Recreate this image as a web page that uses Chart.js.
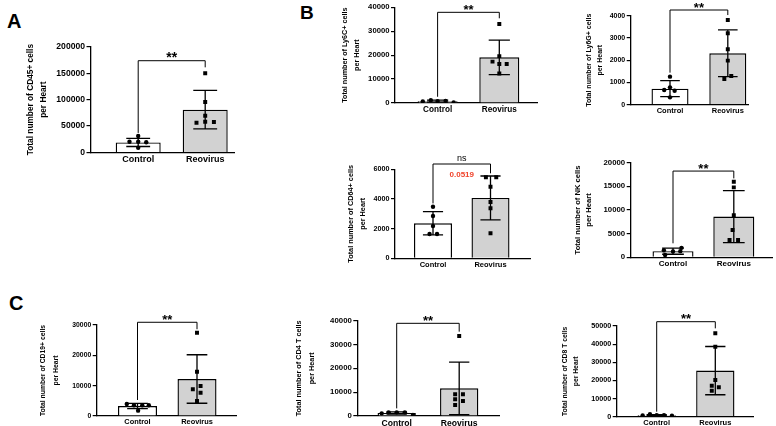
<!DOCTYPE html>
<html><head><meta charset="utf-8">
<script src="https://cdn.jsdelivr.net/npm/chart.js@4.4.1/dist/chart.umd.min.js"></script>
<style>
html,body{margin:0;padding:0;background:#fff;}
body{width:776px;height:426px;position:relative;overflow:hidden;font-family:'Liberation Sans',Arial,sans-serif;}
canvas{position:absolute;}
.lbl{position:absolute;font-weight:bold;line-height:1;color:#000;}
</style></head><body>
<div class="lbl" style="left:7px;top:11px;font-size:20px">A</div>
<div class="lbl" style="left:300px;top:2.5px;font-size:19px">B</div>
<div class="lbl" style="left:9px;top:292.5px;font-size:20px">C</div>
<script>
// ---------------- DATA ----------------
const categories = ['Control', 'Reovirus'];

// A: CD45+
const cd45Control = [31200, 20400, 20400, 19300, 9100];
const cd45Reovirus = [149700, 95500, 69600, 58200, 57600, 56300];
const cd45Mean = [19000, 81000];
const cd45SD = [7700, 36500];
const cd45Ticks = [0, 50000, 100000, 150000, 200000];

// B: Ly6C+
const ly6cControl = [700, 1200, 800, 900, 200];
const ly6cReovirus = [33000, 19600, 17300, 16300, 16300, 12300];
const ly6cMean = [760, 19100];
const ly6cSD = [400, 7200];
const ly6cTicks = [0, 10000, 20000, 30000, 40000];

// B: Ly6G+
const ly6gControl = [1260, 780, 660, 630, 330];
const ly6gReovirus = [3810, 3210, 2490, 1980, 1290, 1155];
const ly6gMean = [720, 2310];
const ly6gSD = [360, 1050];
const ly6gTicks = [0, 1000, 2000, 3000, 4000];

// B: CD64+
const cd64Control = [3480, 2850, 2180, 1640, 1640];
const cd64Reovirus = [5460, 5460, 4830, 3800, 3370, 1690];
const cd64Mean = [2360, 4070];
const cd64SD = [780, 1480];
const cd64Ticks = [0, 2000, 4000, 6000];

// B: NK
const nkControl = [1500, 1250, 1300, 2000, 500];
const nkReovirus = [15970, 14780, 8870, 5770, 3650, 3650];
const nkMean = [1300, 8600];
const nkSD = [650, 5500];
const nkTicks = [0, 5000, 10000, 15000, 20000];

// C: CD19+
const cd19Control = [3960, 3520, 3520, 3520, 1760];
const cd19Reovirus = [27460, 14600, 9890, 8800, 7690, 4950];
const cd19Mean = [3300, 12200];
const cd19SD = [850, 8000];
const cd19Ticks = [0, 10000, 20000, 30000];

// C: CD4 T
const cd4Control = [1120, 1540, 1540, 1540, 420];
const cd4Reovirus = [33580, 9110, 9110, 7000, 6300, 4620];
const cd4Mean = [1230, 11600];
const cd4SD = [480, 11000];
const cd4Ticks = [0, 10000, 20000, 30000, 40000];

// C: CD8 T
const cd8Control = [700, 1400, 800, 800, 600];
const cd8Reovirus = [45970, 38590, 20230, 17090, 16200, 14330];
const cd8Mean = [860, 25400];
const cd8SD = [300, 13300];
const cd8Ticks = [0, 10000, 20000, 30000, 40000, 50000];

// ---------------- POINT SPREAD (horizontal scatter within a group) ----------------
const jitter = {
  cd45: {c: [0, -0.13, 0, 0.12, 0], r: [0, 0, 0, 0, 0.13, -0.13]},
  ly6c: {c: [-0.24, -0.11, 0, 0.13, 0.26], r: [0, 0, -0.11, 0, 0.12, 0]},
  ly6g: {c: [0, 0, -0.1, 0.08, 0], r: [0, 0, 0, 0, 0.06, -0.06]},
  cd64: {c: [0, 0, 0, -0.06, 0.07], r: [-0.08, 0.1, 0, 0, 0, 0]},
  nk:   {c: [-0.15, 0, 0.12, 0.14, -0.13], r: [0, 0, 0, -0.02, -0.07, 0.07]},
  cd19: {c: [-0.18, -0.06, 0.08, 0.19, 0.01], r: [0, 0, 0.06, -0.07, 0.06, 0]},
  cd4:  {c: [-0.24, -0.13, 0, 0.13, 0.26], r: [0, -0.065, 0.06, -0.065, 0.06, -0.065]},
  cd8:  {c: [-0.24, -0.115, 0, 0.125, 0.26], r: [0, 0, 0, -0.06, 0.06, -0.06]}
};

// ---------------- LAYOUT (pixels in page) ----------------
const layouts = {
  cd45: {axisX: 90.5, axisRight: 234, top: 46.7, bottom: 152.5, c0: 138.2, c1: 205.2, barW: 45, titleX: 30.7, titleLH: 12.3, titleSize: 8.3, tickSize: 8.6, xSize: 9, sigSize: 14},
  ly6c: {axisX: 395, axisRight: 537, top: 7.3, bottom: 103, c0: 437.6, c1: 499.3, barW: 40, titleX: 345, titleLH: 12.3, titleSize: 7.2, tickSize: 7.7, xSize: 8.2, sigSize: 13},
  ly6g: {axisX: 630.7, axisRight: 748, top: 15.7, bottom: 104.7, c0: 670, c1: 727.8, barW: 37, titleX: 589.3, titleLH: 11.7, titleSize: 7.0, tickSize: 7.0, xSize: 7.5, sigSize: 13},
  cd64: {axisX: 395, axisRight: 530, top: 169.3, bottom: 258.3, c0: 433, c1: 490.5, barW: 38, titleX: 351, titleLH: 12.3, titleSize: 7.3, tickSize: 7.2, xSize: 7.5, sigSize: 9},
  nk:   {axisX: 630.7, axisRight: 772, top: 162.7, bottom: 257.3, c0: 673, c1: 733.8, barW: 41, titleX: 577.7, titleLH: 11.6, titleSize: 7.6, tickSize: 7.8, xSize: 8, sigSize: 13},
  cd19: {axisX: 96.7, axisRight: 236, top: 325, bottom: 416, c0: 137.5, c1: 197, barW: 39, titleX: 43.3, titleLH: 12.7, titleSize: 6.8, tickSize: 6.8, xSize: 7.4, sigSize: 13},
  cd4:  {axisX: 357.3, axisRight: 499, top: 320.7, bottom: 416, c0: 396.7, c1: 459.2, barW: 38.3, titleX: 299, titleLH: 12.7, titleSize: 7.3, tickSize: 7.8, xSize: 8.6, sigSize: 13},
  cd8:  {axisX: 616.7, axisRight: 753, top: 326, bottom: 416.7, c0: 656.7, c1: 715.3, barW: 38.3, titleX: 565, titleLH: 11.7, titleSize: 6.8, tickSize: 7.2, xSize: 7.5, sigSize: 13}
};

const FONT = '"Liberation Sans", Arial, sans-serif';
Chart.defaults.font.family = FONT;
Chart.defaults.color = '#000';

const annotPlugin = {
  id: 'annot',
  afterDatasetsDraw(chart, args, opts) {
    const p = opts.panel;
    if (!p) return;
    const xs = chart.scales.x, ys = chart.scales.y, ctx = chart.ctx;
    ctx.save();
    ctx.strokeStyle = '#000';
    ctx.lineWidth = 1.3;
    const capHalf = p.barFrac * 0.53 / 2;
    p.mean.forEach((m, i) => {
      const s = p.sd[i];
      const px = xs.getPixelForValue(i);
      const pl = xs.getPixelForValue(i - capHalf), pr = xs.getPixelForValue(i + capHalf);
      const yt = ys.getPixelForValue(m + s), yb = ys.getPixelForValue(Math.max(m - s, 0));
      ctx.beginPath();
      ctx.moveTo(px, yt); ctx.lineTo(px, yb);
      ctx.moveTo(pl, yt); ctx.lineTo(pr, yt);
      ctx.moveTo(pl, yb); ctx.lineTo(pr, yb);
      ctx.stroke();
    });
    const b = p.bracket;
    const x0 = xs.getPixelForValue(0), x1 = xs.getPixelForValue(1), yl = ys.getPixelForValue(b.level);
    ctx.lineWidth = 1;
    ctx.beginPath();
    ctx.moveTo(x0, ys.getPixelForValue(b.left));
    ctx.lineTo(x0, yl); ctx.lineTo(x1, yl);
    ctx.lineTo(x1, ys.getPixelForValue(b.right));
    ctx.stroke();
    ctx.fillStyle = '#000';
    ctx.textAlign = 'center';
    const xm = xs.getPixelForValue(0.5);
    if (p.sig === 'ns') {
      ctx.font = 'normal ' + p.L.sigSize + 'px ' + FONT;
      ctx.textBaseline = 'alphabetic';
      ctx.fillText('ns', xm, yl - 3);
    } else {
      ctx.font = 'bold ' + p.L.sigSize + 'px ' + FONT;
      ctx.textBaseline = 'alphabetic';
      ctx.fillText(p.sig, xm, yl + 1.5);
    }
    if (p.pText) {
      ctx.font = 'bold 8px ' + FONT;
      ctx.fillStyle = '#f0432b';
      ctx.textBaseline = 'middle';
      ctx.fillText(p.pText.text, xm, ys.getPixelForValue(p.pText.value));
    }
    ctx.restore();
  }
};

function buildPanel(p) {
  const L = p.L;
  const unit = L.c1 - L.c0;
  const xMin = (L.axisX - L.c0) / unit, xMax = (L.axisRight - L.c0) / unit;
  p.barFrac = L.barW / unit;
  const left = Math.round(L.titleX - L.titleLH / 2);
  const canvasTop = Math.floor(L.top - 32);
  const padTop = L.top - canvasTop;
  const xH = 22, padRight = 8;
  const W = Math.ceil(L.axisRight + padRight - left);
  const H = Math.ceil(L.bottom + xH - canvasTop);
  const cv = document.createElement('canvas');
  cv.width = W; cv.height = H;
  cv.style.left = left + 'px'; cv.style.top = canvasTop + 'px';
  cv.style.width = W + 'px'; cv.style.height = H + 'px';
  document.body.appendChild(cv);
  const yW = L.axisX - left;
  const xHeight = H - padTop - (L.bottom - L.top);

  new Chart(cv, {
    type: 'bar',
    data: {
      datasets: [
        {type: 'scatter', order: 1, data: p.ctrl.map((v, i) => ({x: 0 + p.jit.c[i], y: v})),
         pointStyle: 'circle', pointRadius: 2.2, backgroundColor: '#000', borderColor: '#000', borderWidth: 0},
        {type: 'scatter', order: 2, data: p.reo.map((v, i) => ({x: 1 + p.jit.r[i], y: v})),
         pointStyle: 'rect', pointRadius: 2.8, backgroundColor: '#000', borderColor: '#000', borderWidth: 0},
        {type: 'bar', order: 3, data: p.mean.map((m, i) => ({x: i, y: m})),
         backgroundColor: ['#ffffff', '#d2d2d2'], borderColor: '#000', borderWidth: 1.4,
         barPercentage: 1, categoryPercentage: p.barFrac}
      ]
    },
    options: {
      responsive: false, animation: false, events: [], devicePixelRatio: 1,
      layout: {padding: {left: 0, top: padTop, right: padRight, bottom: 0}},
      plugins: {legend: {display: false}, tooltip: {enabled: false}, annot: {panel: p}},
      scales: {
        x: {
          type: 'linear', min: xMin, max: xMax, offset: false,
          afterBuildTicks: s => { s.ticks = categories.map((c, i) => ({value: i})); },
          afterFit: s => { s.height = xHeight; },
          ticks: {callback: v => categories[v], font: {size: L.xSize, weight: 'bold'}, padding: 2, maxRotation: 0, autoSkip: false, color: '#000'},
          grid: {display: false, drawTicks: false, offset: false},
          border: {display: true, color: '#000', width: 1.3}
        },
        y: {
          type: 'linear', min: 0, max: p.ticks[p.ticks.length - 1],
          afterBuildTicks: s => { s.ticks = p.ticks.map(v => ({value: v})); },
          afterFit: s => { s.width = yW; },
          ticks: {callback: v => String(v), font: {size: L.tickSize, weight: 'bold'}, padding: 1.5, color: '#000'},
          grid: {display: true, drawOnChartArea: false, drawTicks: true, tickLength: 4, color: '#000', lineWidth: 1.2},
          border: {display: true, color: '#000', width: 1.3},
          title: {display: true, text: p.title, color: '#000', padding: {top: 0, bottom: 0},
                  font: {size: L.titleSize, weight: 'bold', lineHeight: L.titleLH + 'px'}}
        }
      }
    },
    plugins: [annotPlugin]
  });
}

buildPanel({title: ['Total number of CD45+ cells', 'per Heart'], ctrl: cd45Control, reo: cd45Reovirus, mean: cd45Mean, sd: cd45SD, ticks: cd45Ticks, jit: jitter.cd45, L: layouts.cd45, sig: '**', bracket: {level: 173500, left: 37000, right: 161000}});
buildPanel({title: ['Total number of Ly6C+ cells', 'per Heart'], ctrl: ly6cControl, reo: ly6cReovirus, mean: ly6cMean, sd: ly6cSD, ticks: ly6cTicks, jit: jitter.ly6c, L: layouts.ly6c, sig: '**', bracket: {level: 37900, left: 2600, right: 35400}});
buildPanel({title: ['Total number of Ly6G+ cells', 'per Heart'], ctrl: ly6gControl, reo: ly6gReovirus, mean: ly6gMean, sd: ly6gSD, ticks: ly6gTicks, jit: jitter.ly6g, L: layouts.ly6g, sig: '**', bracket: {level: 4256, left: 1440, right: 4030}});
buildPanel({title: ['Total number of CD64+ cells', 'per Heart'], ctrl: cd64Control, reo: cd64Reovirus, mean: cd64Mean, sd: cd64SD, ticks: cd64Ticks, jit: jitter.cd64, L: layouts.cd64, sig: 'ns', bracket: {level: 6357, left: 3700, right: 5730}, pText: {text: '0.0519', value: 5660}});
buildPanel({title: ['Total number of NK cells', 'per Heart'], ctrl: nkControl, reo: nkReovirus, mean: nkMean, sd: nkSD, ticks: nkTicks, jit: jitter.nk, L: layouts.nk, sig: '**', bracket: {level: 18230, left: 2960, right: 16680}});
buildPanel({title: ['Total number of CD19+ cells', 'per Heart'], ctrl: cd19Control, reo: cd19Reovirus, mean: cd19Mean, sd: cd19SD, ticks: cd19Ticks, jit: jitter.cd19, L: layouts.cd19, sig: '**', bracket: {level: 30900, left: 5270, right: 28600}});
buildPanel({title: ['Total number of CD4 T cells', 'per Heart'], ctrl: cd4Control, reo: cd4Reovirus, mean: cd4Mean, sd: cd4SD, ticks: cd4Ticks, jit: jitter.cd4, L: layouts.cd4, sig: '**', bracket: {level: 38900, left: 3200, right: 35400}});
buildPanel({title: ['Total number of CD8 T cells', 'per Heart'], ctrl: cd8Control, reo: cd8Reovirus, mean: cd8Mean, sd: cd8SD, ticks: cd8Ticks, jit: jitter.cd8, L: layouts.cd8, sig: '**', bracket: {level: 52370, left: 2760, right: 48700}});
</script>
</body></html>
